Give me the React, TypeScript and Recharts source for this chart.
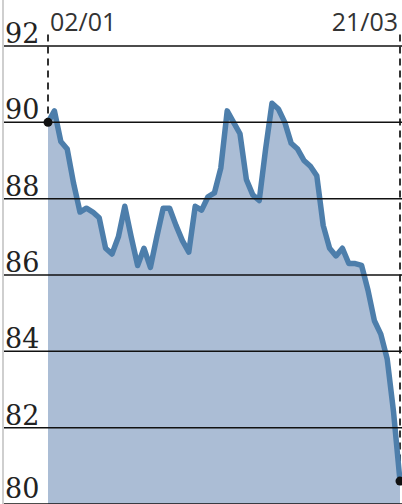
import { ComposedChart, Area, Line, XAxis, YAxis, ReferenceLine } from 'recharts'

// trading-day index from 02/01 to 21/03
const values = [
  90.0, 90.3, 89.5, 89.3, 88.4, 87.65, 87.75, 87.65, 87.5, 86.7,
  86.55, 87.0, 87.8, 87.0, 86.25, 86.7, 86.2, 87.0, 87.75, 87.75,
  87.3, 86.9, 86.6, 87.8, 87.7, 88.05, 88.15, 88.8, 90.3, 90.0,
  89.7, 88.5, 88.1, 87.95, 89.3, 90.5, 90.35, 90.0, 89.45, 89.3,
  89.0, 88.85, 88.6, 87.3, 86.7, 86.5, 86.7, 86.3, 86.3, 86.25,
  85.6, 84.8, 84.45, 83.8, 82.4, 80.6,
]
const dateLabels = ['02/01', '21/03']
const yTicks = [80, 82, 84, 86, 88, 90, 92]

const lastIdx = values.length - 1
const data = values.map((v, i) => ({ i, v }))

const YTick = ({ y, payload }: any) => (
  <g>
    <line x1={4} x2={402} y1={y} y2={y} stroke="#111" strokeWidth={1.5} />
    <text
      x={5}
      y={payload.value === yTicks[0] ? y - 6 : y - 3}
      fontFamily="DejaVu Serif"
      fontSize={27}
      fill="#222"
    >
      {payload.value}
    </text>
  </g>
)

const XTick = ({ x, payload }: any) => {
  const first = payload.value === 0
  return (
    <text
      x={first ? x + 2 : x - 2}
      y={31}
      textAnchor={first ? 'start' : 'end'}
      fontFamily="Open Sans"
      fontSize={25}
      fill="#333"
    >
      {first ? dateLabels[0] : dateLabels[1]}
    </text>
  )
}

const EndDot = (props: any) => {
  const { cx, cy, index } = props
  if (index !== 0 && index !== lastIdx) return <g key={index} />
  return <circle key={index} cx={cx} cy={cy} r={4.5} fill="#111" />
}

export default function App() {
  return (
    <div style={{ position: 'absolute', left: 0, top: 0, width: 402, height: 504, background: '#fff' }}>
      <div style={{ position: 'absolute', left: 2, top: 0, width: 2, height: 504, background: '#cfcfcf' }} />
      <ComposedChart width={402} height={504} data={data} margin={{ top: 0, right: 2, bottom: 0, left: 0 }}>
        <XAxis
          dataKey="i"
          type="number"
          domain={[0, lastIdx]}
          ticks={[0, lastIdx]}
          interval={0}
          orientation="top"
          height={46}
          axisLine={false}
          tickLine={false}
          tick={<XTick />}
        />
        <YAxis
          domain={[80, 92]}
          ticks={yTicks}
          interval={0}
          width={48}
          axisLine={false}
          tickLine={false}
          tick={<YTick />}
        />
        <Area
          dataKey="v"
          type="linear"
          fill="#abbdd5"
          fillOpacity={1}
          stroke="none"
          isAnimationActive={false}
          baseValue={80}
        />
        <ReferenceLine
          segment={[{ x: 0, y: 92.3 }, { x: 0, y: values[0] }]}
          stroke="#333"
          strokeWidth={2}
          strokeDasharray="7 5"
          ifOverflow="visible"
        />
        <ReferenceLine
          segment={[{ x: lastIdx, y: 92.3 }, { x: lastIdx, y: values[lastIdx] }]}
          stroke="#333"
          strokeWidth={2}
          strokeDasharray="7 5"
          ifOverflow="visible"
        />
        <Line
          dataKey="v"
          type="linear"
          stroke="#4d7eab"
          strokeWidth={5.5}
          strokeLinejoin="round"
          dot={EndDot}
          activeDot={false}
          isAnimationActive={false}
        />
      </ComposedChart>
    </div>
  )
}
